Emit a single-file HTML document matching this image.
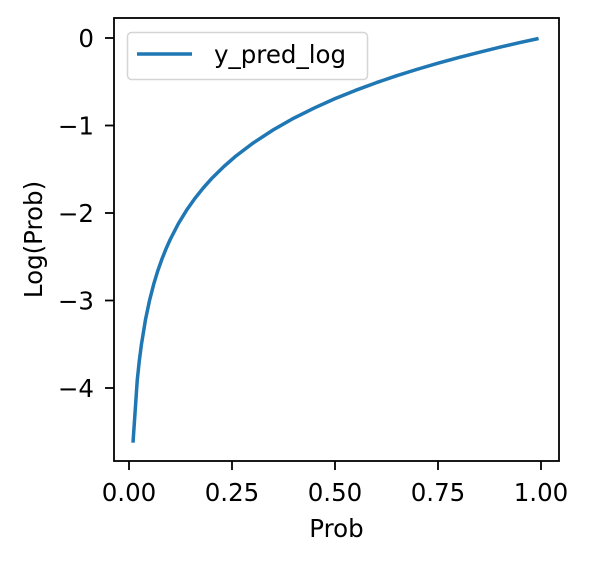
<!DOCTYPE html>
<html>
<head>
<meta charset="utf-8">
<style>
  html,body{margin:0;padding:0;background:#fff;}
  svg{display:block;font-family:"DejaVu Sans","Liberation Sans",sans-serif;}
</style>
</head>
<body>
<svg id="chart" width="593" height="563" viewBox="0 0 593 563">
  <rect x="0" y="0" width="593" height="563" fill="#fff"/>
  <g id="plot"></g>
</svg>
<script>
const xValues = [0.01,0.02,0.025,0.03,0.04,0.05,0.06,0.07,0.08,0.09,0.1,0.12,0.14,0.16,0.18,0.2,0.23,0.26,0.3,0.35,0.4,0.45,0.5,0.55,0.6,0.65,0.7,0.75,0.8,0.85,0.9,0.95,0.99];
const yValues = [-4.605,-3.912,-3.689,-3.507,-3.219,-2.996,-2.813,-2.659,-2.526,-2.408,-2.303,-2.120,-1.966,-1.833,-1.715,-1.609,-1.470,-1.347,-1.204,-1.050,-0.916,-0.799,-0.693,-0.598,-0.511,-0.431,-0.357,-0.288,-0.223,-0.163,-0.105,-0.051,-0.010];
const xTicks = [0,0.25,0.5,0.75,1.0];
const xTickLabels = ["0.00","0.25","0.50","0.75","1.00"];
const yTicks = [0,-1,-2,-3,-4];
const yTickLabels = ["0","\u22121","\u22122","\u22123","\u22124"];
const seriesName = "y_pred_log";

const NS="http://www.w3.org/2000/svg";
const plotG=document.getElementById('plot');
const plotLeft=114,plotRight=559,plotTop=18,plotBottom=461;
const FS='24.5px';
function xs(v){return 129+412*v;}
function ys(v){return 38-87.5*v;}
function mk(tag,attrs){const e=document.createElementNS(NS,tag);for(const k in attrs)e.setAttribute(k,attrs[k]);plotG.appendChild(e);return e;}

let d="";
xValues.forEach((x,i)=>{d+=(i?"L":"M")+xs(x).toFixed(2)+","+ys(yValues[i]).toFixed(2);});
const line=mk('path',{d:d,fill:'none',stroke:'#1f77b4','stroke-width':3.5,'stroke-linejoin':'round','stroke-linecap':'square'});



const frame=mk('rect',{x:plotLeft,y:plotTop,width:plotRight-plotLeft,height:plotBottom-plotTop,fill:'none',stroke:'#000','stroke-width':1.8});



xTicks.forEach((t,i)=>{
  const x=xs(t);
  const tk=mk('line',{x1:x,x2:x,y1:plotBottom,y2:plotBottom+9,stroke:'#000','stroke-width':1.8});
  
  
  const tx=mk('text',{x:x,y:501,'text-anchor':'middle','font-size':FS,fill:'#000'});
  tx.textContent=xTickLabels[i];
  
  
});
yTicks.forEach((t,i)=>{
  const y=ys(t);
  const tk=mk('line',{x1:plotLeft-9,x2:plotLeft,y1:y,y2:y,stroke:'#000','stroke-width':1.8});
  
  
  const tx=mk('text',{x:94,y:y+9,'text-anchor':'end','font-size':FS,fill:'#000'});
  tx.textContent=yTickLabels[i];
  
  
});
const xt=mk('text',{x:(plotLeft+plotRight)/2,y:537,'text-anchor':'middle','font-size':FS,fill:'#000'});
xt.textContent="Prob";


const yt=mk('text',{x:0,y:0,'text-anchor':'middle','font-size':FS,fill:'#000',transform:'translate(42,'+((plotTop+plotBottom)/2)+') rotate(-90)'});
yt.textContent="Log(Prob)";



const lb=mk('rect',{x:127.5,y:32.5,width:240,height:47,rx:4,fill:'#fff','fill-opacity':0.8,stroke:'#d5d5d5','stroke-width':1.5});


const ll=mk('line',{x1:137,x2:192,y1:54,y2:54,stroke:'#1f77b4','stroke-width':3.5});


const lt=mk('text',{x:214,y:63,'font-size':FS,fill:'#000'});
lt.textContent=seriesName;


</script>
</body>
</html>
